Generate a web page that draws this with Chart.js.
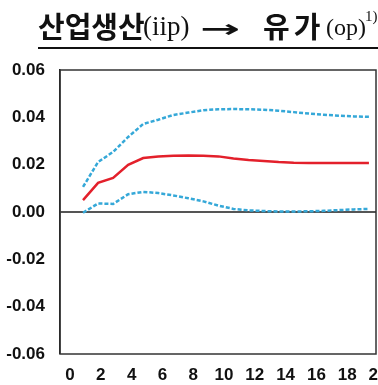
<!DOCTYPE html>
<html lang="ko">
<head>
<meta charset="utf-8">
<script src="https://cdn.jsdelivr.net/npm/chart.js@4"></script>
<style>
  html, body { margin: 0; padding: 0; background: #fff; }
  #wrap { position: relative; width: 378px; height: 385px; overflow: hidden; }
  #chart-box { position: absolute; left: 0; top: 0; width: 378px; height: 385px; }
  #title span { position: absolute; white-space: nowrap; line-height: 1; color: #111; }
  #title .ko { font-family: "Noto Sans CJK KR", sans-serif; font-weight: 700; font-size: 29px; top: 11px; }
  #title .en { font-family: "Liberation Serif", serif; font-size: 27px; top: 13px; }
  #title .arrow { font-family: "DejaVu Sans", sans-serif; font-weight: 700; font-size: 24px; top: 17px; transform: scaleX(2); transform-origin: 0 50%; }
  #title .sup { font-family: "Liberation Serif", serif; font-size: 15px; top: 9px; }
  #rule { position: absolute; left: 38px; top: 47px; width: 340px; height: 2px; background: #111; }
</style>
</head>
<body>
<div id="wrap">
  <div id="chart-box"><canvas id="irf-chart"></canvas></div>
  <div id="title">
    <span class="ko" style="left:38px">산업생산</span>
    <span class="en" style="left:143px">(iip)</span>
    <span class="arrow" style="left:200px">→</span>
    <span class="ko" style="left:263px; letter-spacing:4px">유가</span>
    <span class="en" style="left:326px; font-size:24px; top:15px">(op)</span>
    <span class="sup" style="left:365px">1)</span>
  </div>
  <div id="rule"></div>
</div>
<script>
  const periods = [1, 2, 3, 4, 5, 6, 7, 8, 9, 10, 11, 12, 13, 14, 15, 16, 17, 18, 19, 20];
  const response = [0.0050, 0.0123, 0.0144, 0.0199, 0.0228, 0.0235, 0.0238, 0.0239, 0.0238, 0.0235,
    0.0226, 0.0220, 0.0216, 0.0211, 0.0208, 0.0207, 0.0207, 0.0207, 0.0207, 0.0207];
  const upperBand = [0.0106, 0.0211, 0.0254, 0.0317, 0.0372, 0.0390, 0.0410, 0.0420, 0.0430, 0.0434,
    0.0435, 0.0434, 0.0432, 0.0428, 0.0422, 0.0416, 0.0411, 0.0407, 0.0404, 0.0402];
  const lowerBand = [-0.0003, 0.0036, 0.0034, 0.0075, 0.0085, 0.0080, 0.0070, 0.0058, 0.0045, 0.0027,
    0.0013, 0.0007, 0.0004, 0.0002, 0.0002, 0.0003, 0.0005, 0.0008, 0.0011, 0.0013];
  const xTicks = [0, 2, 4, 6, 8, 10, 12, 14, 16, 18, 20];
  const yTicks = [-0.06, -0.04, -0.02, 0, 0.02, 0.04, 0.06];

  const tickFont = { family: '"Liberation Sans", Arial, sans-serif', size: 17, weight: 'bold' };

  const framePlugin = {
    id: 'frame',
    afterDraw(chart) {
      const { ctx, chartArea: a } = chart;
      ctx.save();
      ctx.strokeStyle = '#333';
      ctx.lineWidth = 1.5;
      ctx.strokeRect(a.left, a.top, a.right - a.left, a.bottom - a.top);
      ctx.restore();
    },
  };

  const toPoints = (values) => values.map((v, i) => ({ x: periods[i], y: v }));

  new Chart(document.getElementById('irf-chart'), {
    type: 'line',
    data: {
      datasets: [
        { label: 'upper', data: toPoints(upperBand), borderColor: '#35a8d8', borderWidth: 2.5, borderDash: [4, 2] },
        { label: 'lower', data: toPoints(lowerBand), borderColor: '#35a8d8', borderWidth: 2.5, borderDash: [4, 2] },
        { label: 'iip→op', data: toPoints(response), borderColor: '#e3202b', borderWidth: 2.5 },
      ],
    },
    plugins: [framePlugin],
    options: {
      responsive: true,
      maintainAspectRatio: false,
      animation: false,
      layout: { padding: { top: 70, right: 2, left: 0, bottom: 0 } },
      elements: { point: { radius: 0 }, line: { tension: 0 } },
      plugins: { legend: { display: false }, tooltip: { enabled: false } },
      scales: {
        x: { type: 'linear', display: false, min: -0.53, max: 20.47 },
        xl: {
          type: 'linear', position: 'bottom', axis: 'x', min: -0.65, max: 19.87,
          afterBuildTicks: (scale) => { scale.ticks = xTicks.map((v) => ({ value: v })); },
          afterFit: (scale) => { scale.height = 31; scale.paddingLeft = 0; scale.paddingRight = 0; },
          grid: { display: false, drawTicks: false },
          border: { display: false },
          ticks: { padding: 11, color: '#111', font: tickFont, maxRotation: 0, autoSkip: false },
        },
        y: {
          min: -0.06, max: 0.06,
          afterBuildTicks: (scale) => { scale.ticks = yTicks.map((v) => ({ value: v })); },
          afterFit: (scale) => { scale.width = 60; scale.paddingTop = 0; scale.paddingBottom = 0; },
          grid: {
            drawTicks: false,
            color: (c) => (c.tick && Math.abs(c.tick.value) < 1e-9 ? '#555' : 'rgba(0,0,0,0)'),
            lineWidth: (c) => (c.tick && Math.abs(c.tick.value) < 1e-9 ? 2 : 0),
          },
          border: { display: true, color: '#111', width: 1.5 },
          ticks: { padding: 15, color: '#111', font: tickFont, callback: (v) => Number(v).toFixed(2) },
        },
      },
    },
  });
</script>
</body>
</html>
